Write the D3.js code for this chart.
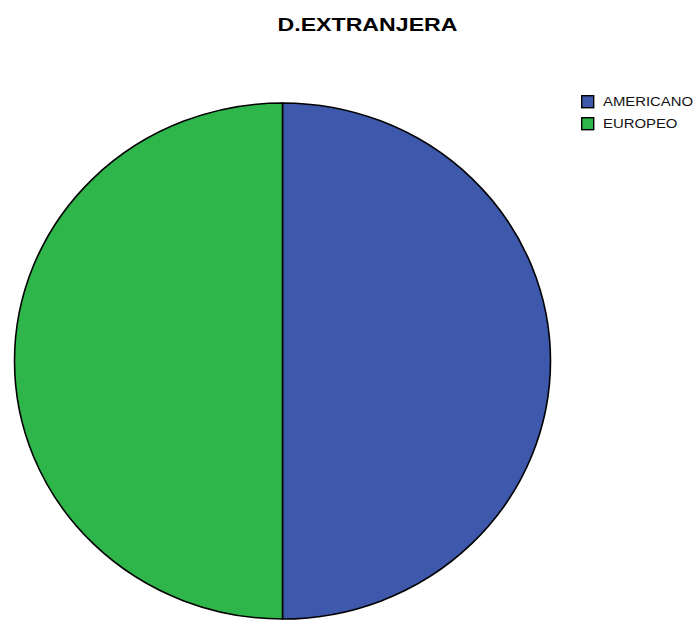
<!DOCTYPE html>
<html><head><meta charset="utf-8">
<script src="https://cdn.jsdelivr.net/npm/d3@7"></script>
<style>body{margin:0;background:#fff;}</style>
</head><body>
<svg id="c" width="699" height="621"></svg>
<script>
const categories = ["AMERICANO", "EUROPEO"];
const values = [50, 50];
const colors = ["#3E58AC", "#2EB64A"];
const title = "D.EXTRANJERA";

const svg = d3.select("#c");
const FONT = "Arial, 'Liberation Sans', sans-serif";

function fitWidth(sel, width) {
  sel.attr("textLength", width).attr("lengthAdjust", "spacingAndGlyphs");
}

const t = svg.append("text").attr("x", 367.5).attr("y", 30.5).attr("text-anchor", "middle")
  .attr("font-family", FONT).attr("font-weight", "bold")
  .attr("font-size", 19).text(title);
fitWidth(t, t.node().getComputedTextLength() * 1.0 < 180 ? 180 : t.node().getComputedTextLength());

const cx = 282.5, cy = 361, rx = 268, ry = 258;
const pie = d3.pie().sort(null)(values);
const arc = d3.arc().innerRadius(0).outerRadius(rx);
const g = svg.append("g").attr("transform", `translate(${cx},${cy}) scale(1,${ry/rx})`);
g.selectAll("path").data(pie).join("path")
  .attr("d", arc).attr("fill", (d,i) => colors[i])
  .attr("stroke", "#000").attr("stroke-width", 1.6).attr("vector-effect", "non-scaling-stroke");

const leg = svg.append("g").attr("transform", "translate(581,95)");
categories.forEach((c, i) => {
  const row = leg.append("g").attr("transform", `translate(0,${i*22})`);
  row.append("rect").attr("x", 0.7).attr("y", 0.7).attr("width", 12).attr("height", 12)
    .attr("fill", colors[i]).attr("stroke", "#000").attr("stroke-width", 1.4);
  const tx = row.append("text").attr("x", 22).attr("y", 11)
    .attr("font-family", FONT).attr("font-size", 12).attr("fill", "#111").text(c);
  fitWidth(tx, tx.node().getComputedTextLength() * 1.24);
});
</script>
</body></html>
